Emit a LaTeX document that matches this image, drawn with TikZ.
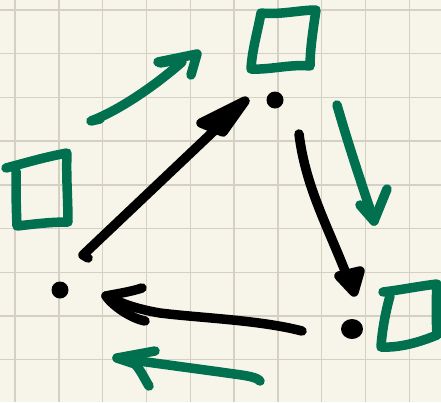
\documentclass[tikz,border=0pt]{standalone}
\definecolor{paper}{HTML}{F7F5EA}
\definecolor{gridc}{HTML}{D4D0C4}
\definecolor{ink}{HTML}{00704F}
\begin{document}
\begin{tikzpicture}[x=1pt,y=-1pt,
  pen/.style={line width=9.5pt,line cap=round,line join=round},
  blk/.style={pen,black},
  grn/.style={pen,ink},
  gridline/.style={gridc,line width=1.4pt}]
\fill[paper] (0,0) rectangle (441,402);
\useasboundingbox (0,0) rectangle (441,402);
\foreach \i in {0,...,9} \draw[gridline] ({15+43.8*\i},0) -- ({15+43.8*\i},402);
\foreach \j in {0,...,9} \draw[gridline] (0,{10+43.7*\j}) -- (441,{10+43.7*\j});

% dots
\coordinate (top) at (275,100);
\coordinate (left) at (60,290);
\coordinate (right) at (352,329);
\fill (top) circle (8.5pt);
\fill (left) circle (8.5pt);
\fill (right) ellipse (11pt and 10pt);

% squares
\draw[grn] (261,13) .. controls (280,15) and (300,10) .. (316,10)
  .. controls (313,30) and (310,50) .. (310,66)
  .. controls (290,64) and (270,70) .. (251,69)
  .. controls (252,50) and (258,30) .. (261,13);
\draw[grn] (6,168) .. controls (25,163) and (45,157) .. (67,153)
  .. controls (66,175) and (68,200) .. (68,222)
  .. controls (50,222) and (35,224) .. (17,226)
  .. controls (16,205) and (16,185) .. (16,171);
\draw[grn] (383,292) .. controls (400,290) and (420,286) .. (437,284)
  .. controls (436,300) and (436,320) .. (437,335)
  .. controls (420,342) and (400,348) .. (381,347)
  .. controls (382,330) and (386,310) .. (390,296);

% black arrows
\coordinate (b1s) at (88,258);
\coordinate (b1t) at (245,101);
\draw[blk] (b1s) -- (83,255) -- (236,110);
\draw[blk,fill=black] (201,123) -- (b1t) -- (223,132) -- cycle;

\coordinate (b2s) at (299,134);
\coordinate (b2t) at (354,292);
\draw[blk] (b2s) .. controls (306,190) and (330,230) .. (350,284);
\draw[blk,fill=black] (339,276) -- (b2t) -- (360,271) -- cycle;

\coordinate (b3s) at (302,331);
\coordinate (b3t) at (106,296);
\draw[blk] (b3s) .. controls (260,320) and (200,318) .. (160,313)
  .. controls (130,308) and (115,300) .. (b3t);
\draw[blk] (142,288) .. controls (130,292) and (115,294) .. (b3t)
  .. controls (112,305) and (130,318) .. (145,321);

% green arrows
\coordinate (g1s) at (91,121);
\coordinate (g1t) at (197,54);
\draw[grn] (100,119) -- (g1s) .. controls (115,112) and (150,90) .. (182,62);
\draw[grn] (158,62) -- (g1t) -- (191,75);
\draw[grn] (160,63) -- (178,60);

\coordinate (g2s) at (337,105);
\coordinate (g2t) at (374,221);
\draw[grn] (g2s) .. controls (350,150) and (362,185) .. (g2t);
\draw[grn] (360,205) -- (g2t) -- (387,189);

\coordinate (g3s) at (260,381);
\coordinate (g3t) at (117,358);
\draw[grn] (g3s) .. controls (256,376) and (240,375) .. (220,372) -- (g3t);
\draw[grn] (155,351) -- (g3t) -- (135,364) .. controls (142,372) and (145,380) .. (149,386);
\end{tikzpicture}
\end{document}
